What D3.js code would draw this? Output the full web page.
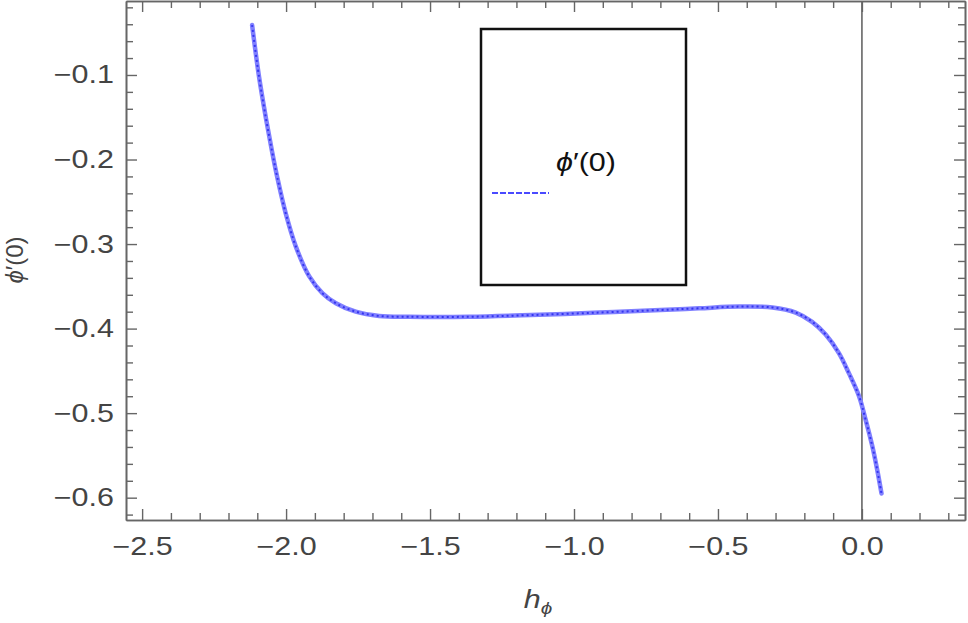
<!DOCTYPE html>
<html>
<head>
<meta charset="utf-8">
<script src="https://cdn.jsdelivr.net/npm/d3@7"></script>
<style>
  body { margin: 0; background: white; }
  svg { display: block; }
</style>
</head>
<body>
<div id="chart-area"></div>
<script>
// h_phi vs phi'(0)
const hValues = [-2.118, -2.094, -2.069, -2.049, -2.030, -2.001, -1.966, -1.920, -1.874, -1.827,
  -1.758, -1.677, -1.573, -1.365, -1.150, -0.913, -0.700, -0.566, -0.427, -0.311, -0.230,
  -0.173, -0.126, -0.080, -0.045, -0.010, 0.013, 0.036, 0.053, 0.068];
const phiValues = [-0.041, -0.102, -0.153, -0.190, -0.222, -0.264, -0.303, -0.338, -0.358, -0.370,
  -0.380, -0.385, -0.386, -0.386, -0.384, -0.381, -0.378, -0.376, -0.374, -0.375, -0.381,
  -0.392, -0.407, -0.429, -0.453, -0.480, -0.508, -0.539, -0.567, -0.595];

const xMajor = [-2.5, -2.0, -1.5, -1.0, -0.5, 0.0];
const yMajor = [-0.1, -0.2, -0.3, -0.4, -0.5, -0.6];
const xTickLabels = ['\u22122.5', '\u22122.0', '\u22121.5', '\u22121.0', '\u22120.5', '0.0'];
const yTickLabels = ['\u22120.1', '\u22120.2', '\u22120.3', '\u22120.4', '\u22120.5', '\u22120.6'];

const maxWidth = 968;
const maxHeight = 623;
const margin = { left: 126, right: 3, top: 1, bottom: 103 };
const chartWidth = maxWidth - margin.left - margin.right;
const chartHeight = maxHeight - margin.top - margin.bottom;

const axisColor = '#666';
const labelColor = '#444';
const font = 'Liberation Sans, Arial, sans-serif';
const stretch = 1.22; // the glyphs in the picture are a bit wide

const svg = d3.select('#chart-area')
    .append('svg')
    .attr('width', maxWidth)
    .attr('height', maxHeight);

const chartGroup = svg.append('g')
    .attr('transform', `translate(${margin.left}, ${margin.top})`);

// Scales
const x = d3.scaleLinear()
    .domain([-2.556, 0.358])
    .range([0, chartWidth]);

const y = d3.scaleLinear()
    .domain([-0.0125, -0.6264])
    .range([0, chartHeight]);

// minor ticks every 0.1 on x, 0.02 on y
const xMinor = d3.range(-25, 4).map((i) => i / 10).filter((v) => !xMajor.some((m) => Math.abs(m - v) < 1e-9));
const yMinor = d3.range(0, 32).map((i) => -i / 50).filter((v) => !yMajor.some((m) => Math.abs(m - v) < 1e-9));

function styleAxis(g) {
    g.selectAll('.domain').attr('stroke', axisColor).attr('stroke-width', 1.6);
    g.selectAll('.tick line').attr('stroke', axisColor).attr('stroke-width', 1.4);
    g.selectAll('.tick text')
        .attr('fill', labelColor)
        .attr('font-family', font)
        .attr('font-size', '25px')
        .attr('transform', `scale(${stretch}, 1)`);
}

// Frame: bottom / left with labels, top / right mirrored without labels
chartGroup.append('g')
    .attr('transform', `translate(0, ${chartHeight})`)
    .call(d3.axisBottom(x).tickValues(xMajor).tickSizeInner(-11).tickSizeOuter(0).tickPadding(17)
        .tickFormat((d, i) => xTickLabels[i]))
    .call(styleAxis);
chartGroup.append('g')
    .attr('transform', `translate(0, ${chartHeight})`)
    .call(d3.axisBottom(x).tickValues(xMinor).tickSizeInner(-7).tickSizeOuter(0).tickFormat(''))
    .call(styleAxis);

chartGroup.append('g')
    .call(d3.axisLeft(y).tickValues(yMajor).tickSizeInner(-11).tickSizeOuter(0)
        .tickFormat((d, i) => yTickLabels[i]))
    .call(styleAxis)
    .call((g) => g.selectAll('.tick text').attr('x', -12 / stretch));
chartGroup.append('g')
    .call(d3.axisLeft(y).tickValues(yMinor).tickSizeInner(-7).tickSizeOuter(0).tickFormat(''))
    .call(styleAxis);

chartGroup.append('g')
    .call(d3.axisTop(x).tickValues(xMajor).tickSizeInner(-11).tickSizeOuter(0).tickFormat(''))
    .call(styleAxis);
chartGroup.append('g')
    .call(d3.axisTop(x).tickValues(xMinor).tickSizeInner(-7).tickSizeOuter(0).tickFormat(''))
    .call(styleAxis);

chartGroup.append('g')
    .attr('transform', `translate(${chartWidth}, 0)`)
    .call(d3.axisRight(y).tickValues(yMajor).tickSizeInner(-11).tickSizeOuter(0).tickFormat(''))
    .call(styleAxis);
chartGroup.append('g')
    .attr('transform', `translate(${chartWidth}, 0)`)
    .call(d3.axisRight(y).tickValues(yMinor).tickSizeInner(-7).tickSizeOuter(0).tickFormat(''))
    .call(styleAxis);

// Vertical line at h = 0
chartGroup.append('line')
    .attr('x1', x(0)).attr('x2', x(0))
    .attr('y1', 0).attr('y2', chartHeight)
    .attr('stroke', axisColor)
    .attr('stroke-width', 1.6);

// Curve
const points = hValues.map((h, i) => [h, phiValues[i]]);
const line = d3.line()
    .x((d) => x(d[0]))
    .y((d) => y(d[1]))
    .curve(d3.curveCatmullRom.alpha(0.5));

chartGroup.append('path')
    .datum(points)
    .attr('fill', 'none')
    .attr('stroke', '#8080ff')
    .attr('stroke-width', 4.5)
    .attr('stroke-linecap', 'round')
    .attr('d', line);
chartGroup.append('path')
    .datum(points)
    .attr('fill', 'none')
    .attr('stroke', '#3535f0')
    .attr('stroke-width', 2)
    .attr('stroke-dasharray', '2,3')
    .attr('d', line);

// Legend box
const legend = svg.append('g')
    .attr('transform', 'translate(481, 29)');
legend.append('rect')
    .attr('width', 205)
    .attr('height', 256)
    .attr('fill', 'white')
    .attr('stroke', '#111')
    .attr('stroke-width', 2.5);
legend.append('line')
    .attr('x1', 11).attr('x2', 68)
    .attr('y1', 164).attr('y2', 164)
    .attr('stroke', '#4a4aff')
    .attr('stroke-width', 1.8)
    .attr('stroke-dasharray', '6,2');
const legendText = legend.append('text')
    .attr('transform', `translate(75, 142) scale(${stretch}, 1)`)
    .attr('font-family', font)
    .attr('font-size', '25px')
    .attr('fill', '#111');
legendText.append('tspan').attr('font-style', 'italic').text('\u03D5');
legendText.append('tspan').text('\u2032(0)');

// Axis labels
svg.append('text')
    .attr('transform', `translate(538, 608) scale(${stretch}, 1)`)
    .attr('font-family', font)
    .attr('font-size', '25px')
    .attr('font-style', 'italic')
    .attr('fill', labelColor)
    .attr('text-anchor', 'middle')
    .call((t) => {
        t.append('tspan').text('h');
        t.append('tspan').attr('font-size', '17px').attr('dy', 6).text('\u03D5');
    });

svg.append('text')
    .attr('transform', 'translate(23, 260) rotate(-90)')
    .attr('font-family', font)
    .attr('font-size', '24px')
    .attr('fill', labelColor)
    .attr('text-anchor', 'middle')
    .call((t) => {
        t.append('tspan').attr('font-style', 'italic').text('\u03D5');
        t.append('tspan').text('\u2032(0)');
    });
</script>
</body>
</html>
